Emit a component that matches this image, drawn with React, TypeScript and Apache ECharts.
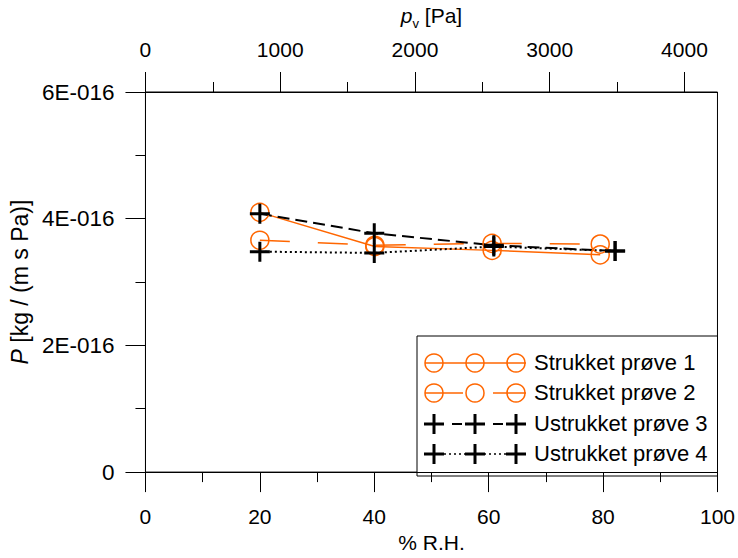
import React, { useEffect, useRef } from "react";
import * as echarts from "echarts";

// Relative humidity (%) and permeability P (in units of 1E-016 kg/(m s Pa))
const s1RH = [20, 40.1, 60.6, 79.5];
const s1P = [4.10, 3.56, 3.50, 3.43];
const s2RH = [20, 40.1, 60.6, 79.5];
const s2P = [3.66, 3.58, 3.61, 3.60];
const s3RH = [20, 40.0, 60.9, 82.1];
const s3P = [4.08, 3.77, 3.58, 3.49];
const s4RH = [20, 40.0, 60.9, 82.1];
const s4P = [3.48, 3.46, 3.56, 3.49];

const seriesNames = ["Strukket prøve 1", "Strukket prøve 2", "Ustrukket prøve 3", "Ustrukket prøve 4"];
const pvMajorTicks = [0, 1000, 2000, 3000, 4000];
const pvMinorTicks = [500, 1500, 2500, 3500];
const pvMax = 4245; // vapour pressure at 100 % R.H.

const ORANGE = "#ff6600";
const FONT = "'Liberation Sans', Arial, sans-serif";
const PLUS = "path://M8.5,0H11.5V8.5H20V11.5H11.5V20H8.5V11.5H0V8.5H8.5Z";

const zip = (xs: number[], ys: number[]) => xs.map((x, i) => [x, ys[i]]);

export default function App() {
  const ref = useRef<HTMLDivElement>(null);
  useEffect(() => {
    if (!ref.current) return;
    const chart = echarts.init(ref.current, undefined, { renderer: "svg" });
    const axisLbl = { color: "#000", fontSize: 21, fontFamily: FONT };
    const lx = [434, 475, 516];
    const ly = [363, 393, 424, 454];
    const legendText = (i: number) => ({
      type: "text",
      left: 534,
      top: ly[i] - 12,
      style: { text: seriesNames[i], fontSize: 22, fontFamily: FONT, fill: "#000" },
    });
    const circle = (cx: number, cy: number) => ({
      type: "circle",
      shape: { cx, cy, r: 9 },
      style: { fill: "none", stroke: ORANGE, lineWidth: 1.5 },
    });
    const plus = (cx: number, cy: number) => [
      { type: "line", shape: { x1: cx - 10, y1: cy, x2: cx + 10, y2: cy }, style: { stroke: "#000", lineWidth: 3 } },
      { type: "line", shape: { x1: cx, y1: cy - 10, x2: cx, y2: cy + 10 }, style: { stroke: "#000", lineWidth: 3 } },
    ];
    const graphicEls: any[] = [
      {
        type: "rect",
        shape: { x: 417, y: 336, width: 300.5, height: 140 },
        style: { fill: "#fff", stroke: "#000", lineWidth: 1 },
      },
      { type: "line", shape: { x1: 425, y1: ly[0], x2: 526, y2: ly[0] }, style: { stroke: ORANGE, lineWidth: 1.5 } },
      ...lx.map((x) => circle(x, ly[0])),
      { type: "line", shape: { x1: 425, y1: ly[1], x2: 463, y2: ly[1] }, style: { stroke: ORANGE, lineWidth: 1.5 } },
      { type: "line", shape: { x1: 493, y1: ly[1], x2: 526, y2: ly[1] }, style: { stroke: ORANGE, lineWidth: 1.5 } },
      ...lx.map((x) => circle(x, ly[1])),
      { type: "line", shape: { x1: 452, y1: ly[2], x2: 462, y2: ly[2] }, style: { stroke: "#000", lineWidth: 2 } },
      { type: "line", shape: { x1: 493, y1: ly[2], x2: 503, y2: ly[2] }, style: { stroke: "#000", lineWidth: 2 } },
      ...lx.flatMap((x) => plus(x, ly[2])),
      { type: "line", shape: { x1: 434, y1: ly[3], x2: 516, y2: ly[3] }, style: { stroke: "#000", lineWidth: 1.5, lineDash: [2, 3] } },
      ...lx.flatMap((x) => plus(x, ly[3])),
      legendText(0),
      legendText(1),
      legendText(2),
      legendText(3),
    ];

    chart.setOption({
      animation: false,
      backgroundColor: "#fff",
      textStyle: { fontFamily: FONT },
      grid: { left: 144, right: 20.5, top: 92, bottom: 82, show: true, borderColor: "#000", borderWidth: 1 },
      xAxis: [
        {
          type: "value",
          position: "bottom",
          min: 0,
          max: 100,
          interval: 20,
          name: "% R.H.",
          nameLocation: "middle",
          nameGap: 57,
          nameTextStyle: { color: "#000", fontSize: 21, fontFamily: FONT },
          axisLine: { lineStyle: { color: "#000", width: 1 } },
          axisTick: { length: 20, lineStyle: { color: "#000" } },
          minorTick: { show: true, splitNumber: 2, length: 10, lineStyle: { color: "#000" } },
          axisLabel: { ...axisLbl, margin: 34, formatter: (v: number) => String(v) },
          splitLine: { show: false },
        },
        {
          type: "value",
          position: "top",
          min: 0,
          max: pvMax,
          name: "{i|p}{s|v} [Pa]",
          nameLocation: "middle",
          nameGap: 62,
          nameTextStyle: {
            color: "#000",
            fontSize: 21,
            fontFamily: FONT,
            rich: {
              i: { fontStyle: "italic", fontSize: 21, fontFamily: FONT, color: "#000" },
              s: { fontSize: 13, fontFamily: FONT, color: "#000", padding: [16, 0, 0, 0] },
            },
          },
          axisLine: { lineStyle: { color: "#000", width: 1 } },
          axisTick: { length: 20, customValues: pvMajorTicks, lineStyle: { color: "#000" } },
          axisLabel: { ...axisLbl, margin: 32, customValues: pvMajorTicks, formatter: (v: number) => String(v) },
          splitLine: { show: false },
        },
        {
          type: "value",
          position: "top",
          min: 0,
          max: pvMax,
          axisLine: { show: false },
          axisTick: { length: 10, customValues: pvMinorTicks, lineStyle: { color: "#000" } },
          axisLabel: { show: false },
          splitLine: { show: false },
        },
      ],
      yAxis: {
        type: "value",
        min: 0,
        max: 6,
        interval: 2,
        name: "{i|P} [kg / (m s Pa)]",
        nameLocation: "middle",
        nameGap: 109,
        nameRotate: 90,
        nameTextStyle: {
          color: "#000",
          fontSize: 23,
          fontFamily: FONT,
          rich: { i: { fontStyle: "italic", fontSize: 23, fontFamily: FONT, color: "#000" } },
        },
        axisLine: { show: true, lineStyle: { color: "#000", width: 1 } },
        axisTick: { show: true, length: 20, lineStyle: { color: "#000" } },
        minorTick: { show: true, splitNumber: 2, length: 10, lineStyle: { color: "#000" } },
        axisLabel: {
          ...axisLbl,
          fontSize: 22.5,
          margin: 31,
          formatter: (v: number) => (v === 0 ? "0" : `${v}E-016`),
        },
        splitLine: { show: false },
      },
      series: [
        {
          name: seriesNames[0],
          type: "line",
          data: zip(s1RH, s1P),
          symbol: "circle",
          symbolSize: 18,
          itemStyle: { color: "rgba(0,0,0,0)", borderColor: ORANGE, borderWidth: 1.5 },
          lineStyle: { color: ORANGE, width: 1.5 },
        },
        {
          name: seriesNames[1],
          type: "line",
          data: zip(s2RH, s2P),
          symbol: "circle",
          symbolSize: 18,
          itemStyle: { color: "rgba(0,0,0,0)", borderColor: ORANGE, borderWidth: 1.5 },
          lineStyle: { color: ORANGE, width: 1.5, type: [30, 28] },
        },
        {
          name: seriesNames[2],
          type: "line",
          data: zip(s3RH, s3P),
          symbol: PLUS,
          symbolSize: 20,
          itemStyle: { color: "#000" },
          lineStyle: { color: "#000", width: 2, type: [12, 6] },
        },
        {
          name: seriesNames[3],
          type: "line",
          data: zip(s4RH, s4P),
          symbol: PLUS,
          symbolSize: 20,
          itemStyle: { color: "#000" },
          lineStyle: { color: "#000", width: 2, type: [2, 3] },
        },
      ],
      graphic: graphicEls,
    });
    return () => chart.dispose();
  }, []);
  return <div ref={ref} style={{ width: 738, height: 558, position: "absolute", left: 0, top: 0 }} />;
}
